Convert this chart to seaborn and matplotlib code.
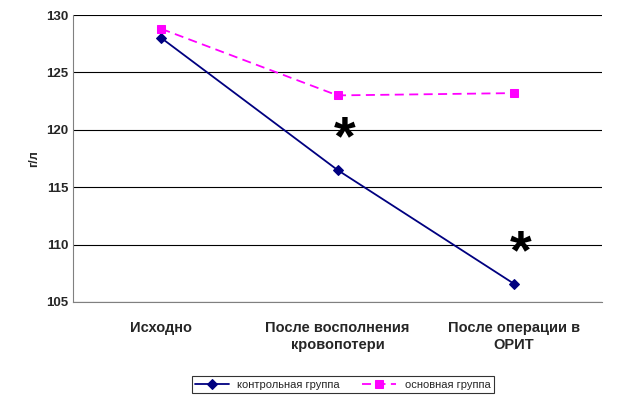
import matplotlib
matplotlib.use("Agg")
import matplotlib.pyplot as plt
import seaborn as sns
import pandas as pd

# данные с графика
categories = ["Исходно", "После восполнения\nкровопотери", "После операции в\nОРИТ"]
control = [128.0, 116.5, 106.6]
main = [128.8, 123.0, 123.2]
stars = [False, True, True]

df = pd.DataFrame({"x": list(range(3)), "control": control, "main": main})

sns.set_style("white")
plt.rcParams["font.family"] = ["Arial", "Liberation Sans", "DejaVu Sans"]

fig = plt.figure(figsize=(6.21, 4.08), dpi=100)
ax = fig.add_axes([0.118, 0.26, 0.851, 0.703])

sns.lineplot(data=df, x="x", y="control", ax=ax, color="#000080", marker="D",
             markersize=5, markeredgecolor="#000080", linewidth=1.3,
             label="контрольная группа")
sns.lineplot(data=df, x="x", y="main", ax=ax, color="#FF00FF", marker="s",
             markersize=6, markeredgecolor="#FF00FF", linewidth=1.3,
             label="основная группа")
ax.lines[1].set_linestyle((0, (5, 3)))

for i, s in enumerate(stars):
    if s:
        ax.text(i + 0.04, control[i] + 0.3, "*", fontsize=40, fontweight="bold",
                ha="center", va="bottom", color="black")

ax.set_xlim(-0.5, 2.5)
ax.set_ylim(105, 130)
ax.set_yticks(range(105, 131, 5))
ax.set_xticks(range(3))
ax.set_xticklabels(categories, fontsize=10.5, fontweight="bold")
ax.tick_params(axis="x", pad=14)
ax.tick_params(axis="y", labelsize=9.5)
for t in ax.get_yticklabels():
    t.set_fontweight("bold")
ax.yaxis.grid(True, color="black", linewidth=0.8)
ax.set_xlabel("")
ax.set_ylabel("г/л", fontsize=9, fontweight="bold")
for sp in ["top", "right"]:
    ax.spines[sp].set_visible(False)
ax.spines["left"].set_color("#808080")
ax.spines["bottom"].set_color("#808080")
ax.tick_params(axis="both", length=0)

leg = ax.legend(loc="upper center", bbox_to_anchor=(0.51, -0.24), ncol=2,
                fontsize=8, frameon=True, fancybox=False, edgecolor="black",
                handlelength=3, borderpad=0.3)
leg.get_frame().set_linewidth(0.8)

fig.savefig("out.png", dpi=100)
